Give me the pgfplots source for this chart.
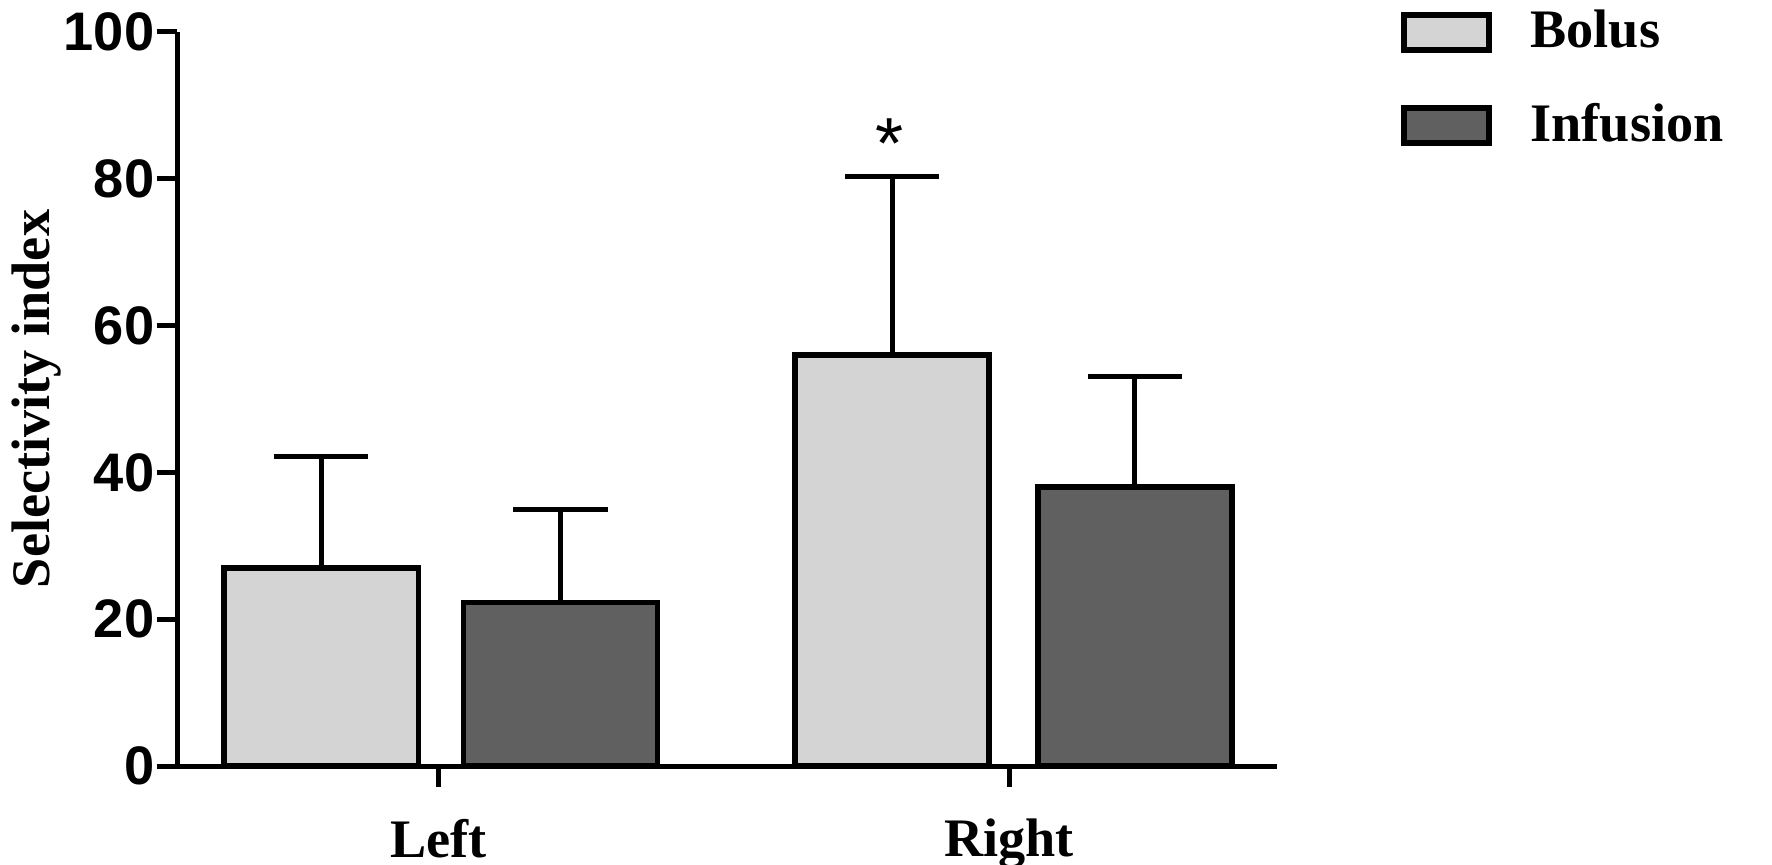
\documentclass[border=0pt]{standalone}
\usepackage{fontspec}
\setmainfont{Liberation Serif}
\setsansfont{Liberation Sans}
\usepackage{pgfplots}
\pgfplotsset{compat=1.18}
\definecolor{bolus}{RGB}{212,212,212}
\definecolor{infusion}{RGB}{96,96,96}

\begin{document}
\begin{tikzpicture}
\useasboundingbox (-39.25pt,-21.75pt) rectangle (352.75pt,169.5pt);
\begin{axis}[
    scale only axis,
    width=243.25pt, height=162.5pt,
    xmin=-0.457, xmax=1.469,
    ymin=0, ymax=100,
    axis lines=left,
    axis line style={-, line width=1.1pt},
    xtick={0,1}, xticklabels={Left,Right},
    ytick={0,20,40,60,80,100},
    tick align=outside,
    major tick length=4.6pt,
    tick style={line width=1.1pt, black},
    /pgf/number format/assume math mode=true,
    yticklabel style={font=\sffamily\bfseries\fontsize{12}{14}\selectfont, xshift=3pt},
    xticklabel style={font=\bfseries\fontsize{12}{14}\selectfont, yshift=-3.5pt},
    ylabel={Selectivity index},
    ylabel style={font=\bfseries\fontsize{12}{14}\selectfont,
        at={(axis description cs:-0.128,0.5)}, anchor=center},
    legend style={draw=none, fill=none, at={(axis description cs:1.112,1.043)},
        anchor=north west, font=\bfseries\fontsize{12}{14}\selectfont,
        row sep=6.75pt, column sep=6.5pt, inner sep=0pt},
    legend cell align=left,
    legend image code/.code={\draw[#1, line width=1.4pt] (0pt,-3.875pt) rectangle (18.75pt,3.875pt);},
    error bars/y dir=plus,
    error bars/y explicit,
    error bars/error mark=|,
    error bars/error bar style={line width=1.1pt, black},
    error bars/error mark options={line width=1.1pt, black, mark size=10.4pt},
]
\addplot[ybar, bar width=0.34, bar shift=0pt, fill=bolus, draw=black, line width=1.25pt]
    coordinates {(-0.205,27.0) +- (0,15.1) (0.795,56.0) +- (0,24.3)};
\addlegendentry{Bolus}
\addplot[ybar, bar width=0.34, bar shift=0pt, fill=infusion, draw=black, line width=1.25pt]
    coordinates {(0.214,22.3) +- (0,12.6) (1.22,38.0) +- (0,15.0)};
\addlegendentry{Infusion}
\node[font=\sffamily\fontsize{16}{18}\selectfont] at (axis cs:0.79,84.8) {*};
\end{axis}
\end{tikzpicture}
\end{document}
